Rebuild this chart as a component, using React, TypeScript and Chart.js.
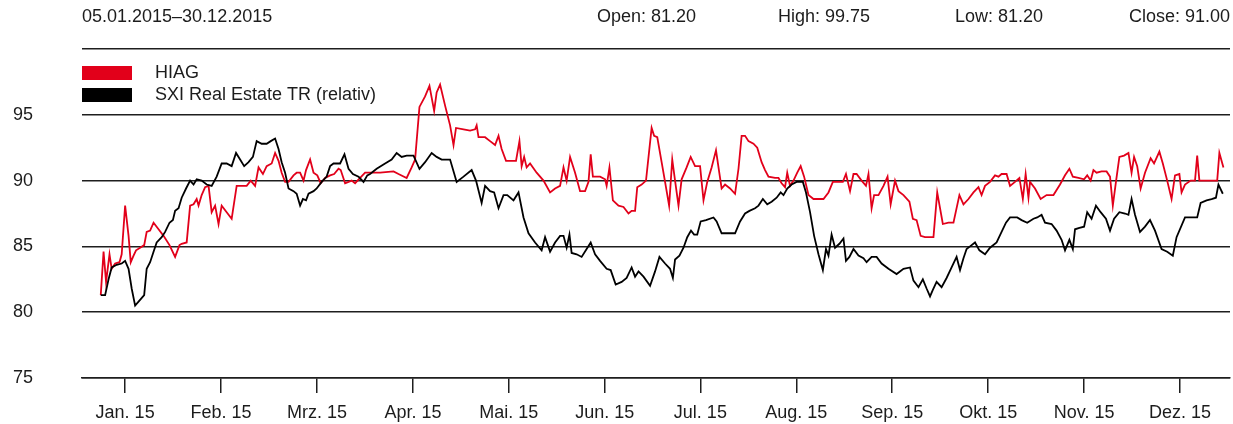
import React, { useEffect, useRef } from 'react';
import { Chart, registerables } from 'chart.js';

Chart.register(...registerables);

// ---- texts ----
const periodLabel = '05.01.2015–30.12.2015';
const statLabels = ['Open: 81.20', 'High: 99.75', 'Low: 81.20', 'Close: 91.00'];
const seriesNames = ['HIAG', 'SXI Real Estate TR (relativ)'];
const seriesColors = ['#e2001a', '#000000'];
const monthLabels = ['Jan. 15', 'Feb. 15', 'Mrz. 15', 'Apr. 15', 'Mai. 15', 'Jun. 15', 'Jul. 15', 'Aug. 15', 'Sep. 15', 'Okt. 15', 'Nov. 15', 'Dez. 15'];
// tick positions expressed in day-of-year 2015 (evenly spaced as in the original)
const monthTickDays = [13, 43.7, 74.4, 105.1, 135.8, 166.5, 197.1, 227.8, 258.5, 289.2, 319.9, 350.6];
const yTickValues = [75, 80, 85, 90, 95, 100];
const xMinDay = -0.8;
const xMaxDay = 366.6;

// ---- HIAG (day of year, value) ----
const hiagDays = [
  5.2, 6.1, 6.9, 8.0, 8.7, 9.8, 11.2, 11.9, 13.0, 14.1, 14.8, 15.7, 16.5, 17.8, 19.1, 19.9, 21.0, 22.1, 23.7, 25.3,
  27.2, 29.0, 30.4, 31.1, 32.7, 33.8, 34.9, 35.9, 36.5, 37.5, 38.6, 39.7, 40.7, 41.8, 42.9, 43.9, 45.5, 47.1, 48.7, 50.3,
  51.9, 53.2, 54.6, 55.7, 57.1, 58.3, 59.9, 61.0, 62.1, 63.1, 64.2, 65.3, 66.9, 67.9, 69.0, 70.1, 70.9, 72.2, 73.3, 74.5,
  75.6, 77.0, 78.6, 79.9, 81.3, 82.0, 83.4, 84.5, 85.5, 86.6, 88.2, 89.8,
  91.4, 94.6, 98.9, 100.5, 103.1, 104.7, 105.8, 107.2, 109.0, 110.4, 111.9, 112.7, 113.8, 115.4, 117.0, 118.1, 118.9, 121.3, 123.4, 125.0,
  125.5, 126.1, 128.2, 129.8, 131.4, 132.5, 133.5, 134.9, 136.7, 138.1, 139.2, 139.9, 140.7, 141.5, 142.6, 144.7, 146.9, 149.0, 150.6, 152.2,
  153.3, 154.3, 155.4, 157.0, 158.6, 160.2, 161.3, 162.0, 162.7, 165.0, 166.6, 167.1, 168.0, 169.1, 170.9, 172.5, 174.1, 175.1, 176.2, 176.9,
  178.3, 179.7,
  181.5, 182.3, 183.3, 184.7, 185.8, 187.1, 188.1, 189.0, 190.1, 191.1, 192.7, 194.0, 195.4, 197.0, 198.1, 199.3, 200.7, 202.1, 203.9, 205.0,
  206.6, 208.2, 209.3, 210.3, 211.4, 212.5, 214.1, 215.3, 216.7, 217.8, 218.9, 221.0, 222.1, 223.1, 224.2, 224.9, 225.8, 226.9, 228.1, 229.2,
  230.3, 231.7, 233.3, 234.9, 236.5, 238.1, 239.5, 241.0, 242.7, 243.7, 245.0, 246.1, 247.1, 248.7, 250.1, 250.9, 251.9, 252.7, 254.1, 255.7,
  257.0, 258.0, 259.4, 260.5, 262.1, 264.0, 265.1, 266.3, 267.6, 269.0,
  270.6, 271.7, 272.9, 274.7, 276.5, 278.1, 280.0, 281.3, 282.9, 284.5, 286.1, 287.1, 288.2, 289.8, 291.4, 292.5, 293.5, 295.1, 296.2, 297.8,
  299.2, 300.3, 301.2, 302.1, 302.6, 304.2, 306.0, 307.9, 310.1, 312.2, 313.8, 315.2, 316.3, 318.1, 319.9, 320.9, 322.0, 322.9, 323.9, 325.5,
  327.1, 328.2, 329.1, 330.1, 331.2, 332.7, 334.1, 335.1, 335.9, 336.9, 338.0, 339.4, 341.2, 342.3, 344.0, 345.1, 346.5, 347.9, 349.0, 350.4,
  351.1, 352.2, 354.0, 355.4, 356.1, 356.8, 359.1, 361.3, 362.5, 363.2, 364.5,
];
const hiagValues = [
  81.3, 84.6, 82.3, 84.4, 83.3, 83.7, 83.8, 84.4, 88.1, 85.8, 83.8, 84.3, 84.7, 84.9, 85.1, 86.1, 86.2, 86.8, 86.3, 85.8,
  85.1, 84.2, 85.1, 85.2, 85.3, 88.1, 88.2, 88.6, 88.1, 88.9, 89.5, 89.6, 87.6, 88.1, 86.7, 88.1, 87.6, 87.1, 89.6, 89.6,
  89.6, 90.0, 89.6, 91.0, 90.5, 91.1, 91.3, 92.1, 91.5, 90.6, 89.9, 89.9, 90.4, 90.6, 90.6, 90.0, 90.8, 91.6, 90.6, 90.4,
  89.8, 90.2, 90.4, 90.5, 90.9, 90.8, 89.8, 89.9, 90.0, 89.8, 90.2, 90.6,
  90.6, 90.6, 90.7, 90.5, 90.2, 91.0, 91.6, 95.6, 96.4, 97.2, 95.3, 96.7, 97.3, 95.7, 94.2, 92.7, 94.0, 93.9, 93.8, 93.9,
  94.2, 93.3, 93.3, 93.0, 92.7, 93.4, 92.4, 91.5, 91.5, 91.5, 93.0, 91.1, 91.8, 91.0, 91.3, 90.6, 90.0, 89.1, 89.4, 89.6,
  91.0, 90.0, 91.8, 90.6, 89.2, 89.2, 89.9, 92.0, 90.3, 90.3, 90.1, 89.6, 91.0, 88.5, 88.1, 88.0, 87.5, 87.7, 87.7, 89.5,
  89.7, 90.0,
  94.0, 93.4, 93.3, 91.4, 89.9, 88.1, 91.6, 90.0, 88.1, 90.1, 91.0, 91.8, 91.1, 91.1, 88.5, 89.9, 91.0, 92.3, 89.4, 89.7,
  89.4, 89.0, 90.9, 93.4, 93.4, 93.0, 92.8, 92.5, 91.4, 90.8, 90.3, 90.2, 90.2, 89.8, 89.5, 90.6, 89.6, 90.0, 90.6, 91.1,
  90.3, 88.9, 88.6, 88.6, 88.6, 89.1, 89.9, 89.9, 89.9, 90.5, 89.2, 90.5, 90.5, 90.0, 89.6, 90.5, 87.9, 88.9, 88.9, 89.6,
  90.3, 88.2, 90.0, 89.2, 88.9, 88.4, 87.1, 87.0, 85.8, 85.7,
  85.7, 85.7, 89.1, 86.7, 86.8, 86.8, 88.9, 88.2, 88.6, 89.1, 89.5, 88.9, 89.6, 89.9, 90.4, 90.3, 90.5, 90.5, 89.6, 89.9,
  90.2, 88.6, 90.5, 88.7, 89.9, 89.4, 88.6, 88.9, 88.9, 89.7, 90.4, 90.9, 90.3, 90.2, 90.1, 90.4, 90.0, 90.8, 90.6, 90.7,
  90.7, 90.3, 88.1, 89.9, 91.8, 91.9, 92.1, 90.6, 91.8, 91.1, 89.4, 90.6, 91.7, 91.3, 92.2, 91.3, 90.0, 88.6, 90.4, 90.5,
  89.1, 89.7, 90.0, 90.0, 91.9, 90.0, 90.0, 90.0, 90.0, 92.1, 91.0,
];

// ---- SXI Real Estate TR (relativ) ----
const sxiDays = [
  5.2, 6.6, 7.7, 8.7, 10.3, 11.9, 13.0, 14.1, 15.1, 16.2, 17.3, 19.1, 19.9, 21.0, 22.1, 23.1, 24.7, 25.8, 27.2, 28.3,
  29.0, 30.1, 31.1, 32.5, 33.8, 34.9, 35.9, 37.5, 39.1, 40.7, 42.3, 43.9, 45.5, 47.1, 48.5, 49.8, 51.1, 52.5, 53.9, 55.1,
  56.7, 58.3, 59.6, 61.0, 62.1, 63.1, 64.2, 65.3, 66.9, 67.9, 69.0, 69.9, 70.9, 71.7, 73.3, 74.3, 75.9, 77.5, 78.6, 79.7,
  81.8, 83.2, 84.5, 85.9, 87.7, 89.3, 90.5,
  91.4, 93.5, 96.2, 98.3, 99.9, 101.5, 103.1, 105.3, 107.2, 109.0, 111.1, 112.7, 114.3, 117.0, 119.1, 121.3, 123.9, 125.3, 127.1, 128.2,
  129.8, 131.1, 132.5, 134.1, 135.3, 137.3, 138.9, 140.5, 142.1, 144.2, 146.3, 147.4, 149.0, 150.6, 152.2, 153.3, 154.3, 155.2, 155.9, 157.5,
  159.1, 160.7, 162.0, 163.4, 165.0, 167.1, 168.4, 170.0, 171.9, 173.5, 175.1, 176.2, 177.3, 178.9,
  181.0, 182.6, 184.0, 185.8, 187.4, 188.3, 189.0, 190.4, 191.7, 192.9, 194.1, 195.1, 196.1, 197.2, 198.9, 201.3, 202.3, 203.9, 206.1, 208.2,
  209.8, 211.4, 212.8, 214.6, 215.7, 217.1, 218.5, 219.9, 221.5, 222.8, 223.7, 224.9, 226.3, 227.9, 229.9, 230.9, 232.2, 233.5, 234.9, 236.3,
  237.3, 238.1, 239.1, 240.2, 241.6, 242.9, 243.7, 244.8, 246.1, 247.7, 249.3, 250.3, 251.9, 253.5, 255.1, 257.3, 259.9, 262.1, 264.2, 265.3,
  266.9, 268.3, 269.5,
  270.6, 271.5, 272.7, 274.3, 275.9, 277.5, 279.1, 280.2, 281.3, 282.3, 283.4, 285.0, 286.4, 288.2, 289.8, 291.9, 293.5, 294.9, 296.2, 298.5,
  299.9, 301.7, 303.7, 304.9, 306.3, 307.4, 309.5, 311.1, 312.7, 313.8, 315.2, 316.3, 317.0, 318.4, 319.9, 320.9, 322.3, 323.7, 325.2, 326.9,
  328.2, 329.5, 331.2, 333.0, 334.1, 335.1, 336.2, 337.8, 339.4, 341.0, 342.6, 344.7, 346.5, 348.3, 349.5, 352.2, 354.3, 356.1, 357.2, 359.1,
  360.7, 362.1, 362.9, 364.3,
];
const sxiValues = [
  81.3, 81.3, 82.5, 83.4, 83.6, 83.7, 83.9, 83.3, 81.8, 80.5, 80.8, 81.3, 83.3, 83.8, 84.6, 85.3, 85.7, 86.1, 86.8, 87.0,
  87.7, 87.9, 88.7, 89.4, 90.0, 89.7, 90.1, 90.0, 89.7, 89.6, 90.3, 91.3, 91.3, 91.1, 92.1, 91.6, 91.1, 91.4, 91.8, 93.0,
  92.8, 92.8, 93.0, 93.2, 92.4, 91.4, 90.6, 89.4, 89.2, 89.0, 88.1, 88.6, 88.5, 89.0, 89.2, 89.4, 89.9, 90.3, 91.1, 91.3,
  91.3, 92.0, 90.9, 90.5, 90.3, 89.9, 90.4,
  90.5, 90.9, 91.3, 91.6, 92.1, 91.8, 91.9, 91.9, 90.9, 91.4, 92.1, 91.8, 91.6, 91.6, 89.9, 90.3, 90.8, 90.0, 88.3, 89.6,
  89.2, 89.1, 87.9, 88.9, 88.9, 88.5, 89.1, 87.2, 86.0, 85.3, 84.7, 85.7, 84.6, 85.3, 85.8, 85.8, 84.9, 85.9, 84.5, 84.4,
  84.2, 84.8, 85.3, 84.4, 83.9, 83.3, 83.2, 82.1, 82.3, 82.6, 83.4, 82.7, 83.1, 82.7,
  82.0, 83.1, 84.2, 83.7, 83.3, 82.6, 84.0, 84.3, 84.9, 85.7, 86.2, 85.9, 85.9, 86.9, 87.0, 87.2, 86.9, 86.0, 86.0, 86.0,
  86.9, 87.5, 87.7, 87.9, 88.1, 88.6, 88.2, 88.4, 88.7, 89.1, 88.9, 89.4, 89.7, 89.9, 89.9, 89.1, 87.6, 85.8, 84.4, 83.2,
  84.8, 84.3, 85.9, 84.9, 85.2, 85.6, 83.9, 84.2, 84.8, 84.3, 84.1, 83.8, 84.2, 84.2, 83.7, 83.3, 82.9, 83.3, 83.4, 82.4,
  81.9, 82.5, 81.8,
  81.2, 81.7, 82.3, 81.9, 82.6, 83.4, 84.2, 83.2, 84.1, 84.8, 85.0, 85.3, 84.7, 84.4, 84.9, 85.3, 86.1, 86.8, 87.2, 87.2,
  87.0, 86.8, 87.1, 87.2, 87.4, 86.8, 86.7, 86.2, 85.5, 84.7, 85.5, 84.8, 86.3, 86.4, 86.5, 87.6, 87.1, 88.1, 87.6, 87.1,
  86.2, 87.1, 87.6, 87.5, 87.4, 88.6, 87.4, 86.1, 86.5, 87.0, 86.2, 84.8, 84.6, 84.3, 85.7, 87.2, 87.2, 87.2, 88.3, 88.5,
  88.6, 88.7, 89.7, 89.0,
];

const FONT_FAMILY = '"Liberation Sans", Arial, Helvetica, sans-serif';
const TEXT_COLOR = '#1c1c1c';
const LINE_COLOR = '#1e1e1e';

const toPoints = (days: number[], values: number[]) =>
  days.map((d, i) => ({ x: d, y: values[i] }));

const headerPlugin = {
  id: 'headerLegend',
  afterDraw(chart: any) {
    const ctx = chart.ctx as CanvasRenderingContext2D;
    ctx.save();
    ctx.font = `18px ${FONT_FAMILY}`;
    ctx.fillStyle = TEXT_COLOR;
    ctx.textBaseline = 'middle';
    ctx.textAlign = 'left';
    ctx.fillText(periodLabel, 82, 17);
    const statX = [597, 778, 955];
    statLabels.forEach((s, i) => {
      if (i < statX.length) {
        ctx.textAlign = 'left';
        ctx.fillText(s, statX[i], 17);
      } else {
        ctx.textAlign = 'right';
        ctx.fillText(s, 1230, 17);
      }
    });
    ctx.textAlign = 'left';
    seriesNames.forEach((name, i) => {
      ctx.fillStyle = seriesColors[i];
      ctx.fillRect(82, 66 + i * 22, 50, 14);
      ctx.fillStyle = TEXT_COLOR;
      ctx.fillText(name, 155, 73 + i * 22);
    });
    ctx.restore();
  },
};

export default function App() {
  const canvasRef = useRef<HTMLCanvasElement>(null);

  useEffect(() => {
    document.body.style.margin = '0';
    const canvas = canvasRef.current;
    if (!canvas) return;
    const font = { family: FONT_FAMILY, size: 18 };
    const chart = new Chart(canvas, {
      type: 'line',
      data: {
        datasets: [
          {
            label: seriesNames[0],
            data: toPoints(hiagDays, hiagValues),
            borderColor: seriesColors[0],
            backgroundColor: seriesColors[0],
            borderWidth: 1.8,
            pointRadius: 0,
            tension: 0,
            fill: false,
            order: 2,
          },
          {
            label: seriesNames[1],
            data: toPoints(sxiDays, sxiValues),
            borderColor: seriesColors[1],
            backgroundColor: seriesColors[1],
            borderWidth: 1.8,
            pointRadius: 0,
            tension: 0,
            fill: false,
            order: 1,
          },
        ],
      },
      options: {
        animation: false,
        responsive: false,
        parsing: false as any,
        layout: { padding: { left: 13, top: 49, right: 3, bottom: 0 } },
        plugins: {
          legend: { display: false },
          tooltip: { enabled: false },
          title: { display: false },
        },
        scales: {
          x: {
            type: 'linear',
            min: xMinDay,
            max: xMaxDay,
            afterBuildTicks: (scale: any) => {
              scale.ticks = monthTickDays.map((v) => ({ value: v }));
            },
            afterFit: (scale: any) => {
              scale.height = 46;
            },
            ticks: {
              autoSkip: false,
              maxRotation: 0,
              minRotation: 0,
              padding: 9,
              font,
              color: TEXT_COLOR,
              callback: (_v: any, i: number) => monthLabels[i],
            },
            grid: {
              drawOnChartArea: false,
              drawTicks: true,
              tickLength: 15,
              color: LINE_COLOR,
              lineWidth: 1.5,
            },
            border: { display: true, color: LINE_COLOR, width: 1.5 },
          },
          y: {
            type: 'linear',
            min: 75,
            max: 100,
            afterBuildTicks: (scale: any) => {
              scale.ticks = yTickValues.map((v) => ({ value: v }));
            },
            afterFit: (scale: any) => {
              scale.width = 69;
            },
            ticks: {
              crossAlign: 'far',
              padding: 0,
              font,
              color: TEXT_COLOR,
              callback: (v: any) => (v === 100 ? '' : String(v)),
            },
            grid: {
              color: LINE_COLOR,
              lineWidth: 1.5,
              drawTicks: false,
            },
            border: { display: false },
          },
        },
      },
      plugins: [headerPlugin],
    } as any);
    return () => chart.destroy();
  }, []);

  return (
    <canvas
      ref={canvasRef}
      width={1233}
      height={424}
      style={{ display: 'block', width: 1233, height: 424 }}
    />
  );
}
